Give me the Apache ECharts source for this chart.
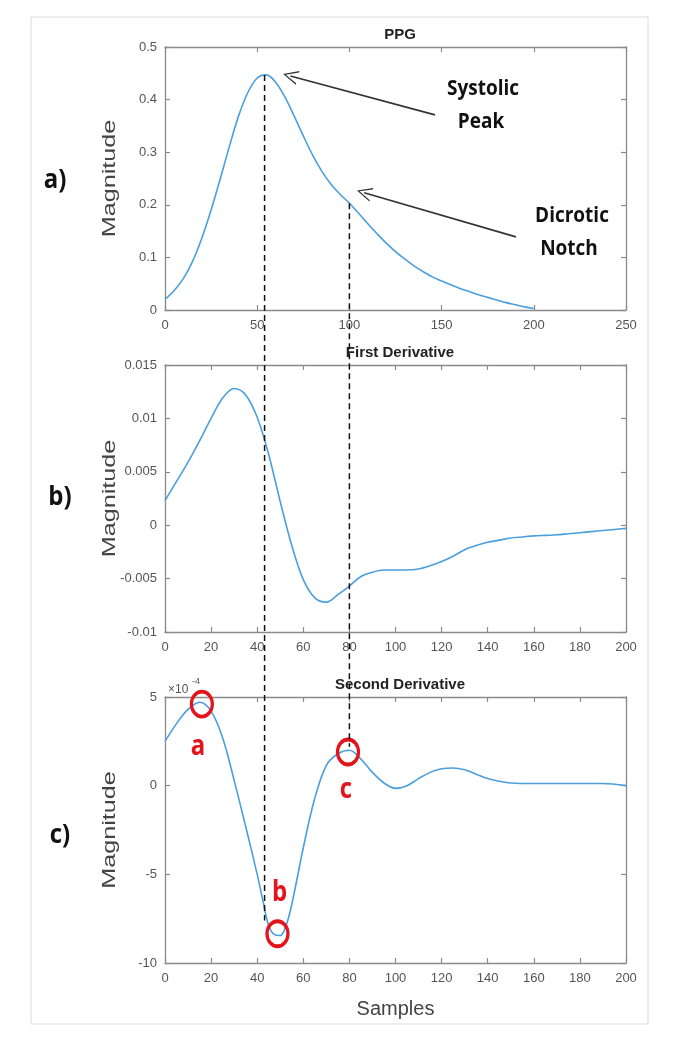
<!DOCTYPE html>
<html><head><meta charset="utf-8">
<script src="https://cdn.jsdelivr.net/npm/echarts@6/dist/echarts.min.js"></script>
<style>html,body{margin:0;padding:0;background:#fff}#chart{width:677px;height:1050px}</style>
</head><body><div id="chart"></div>
<script>
// ---------- data ----------
const panelTitles = ['PPG', 'First Derivative', 'Second Derivative'];
const panelLetters = ['a)', 'b)', 'c)'];

const samples = [0,5,10,15,20,25,30,35,40,45,50,55,60,65,70,75,80,85,90,95,100,
                 105,110,115,120,125,130,135,140,145,150,155,160,165,170,175,180,185,190,195,200];

const ppgY = [0.020,0.037,0.060,0.093,0.137,0.190,0.250,0.312,0.370,0.414,0.441,0.447,0.433,0.405,0.369,0.331,0.295,0.264,0.239,0.220,0.203,
              0.184,0.164,0.145,0.127,0.111,0.097,0.084,0.073,0.063,0.055,0.048,0.041,0.035,0.029,0.024,0.019,0.014,0.010,0.006,0.003];

const d1Y = [0.0023,0.0041,0.0059,0.0079,0.0100,0.0119,0.0128,0.0122,0.0101,0.0066,0.0022,-0.0019,-0.0051,-0.0068,-0.0072,-0.0065,-0.0057,-0.0048,-0.0044,-0.0042,-0.0042,
             -0.0042,-0.0041,-0.0038,-0.0034,-0.0029,-0.0023,-0.0019,-0.0016,-0.0014,-0.0012,-0.0011,-0.0010,-0.00095,-0.0009,-0.0008,-0.0007,-0.0006,-0.0005,-0.0004,-0.0003];

// second derivative, in units of 1e-4
const d2X = [0,5,10,15,20,25,30,35,40,42.5,45,47.5,50,52.5,55,60,65,70,75,80,85,90,95,100,
             105,110,115,120,125,130,135,140,145,150,160,170,180,190,200];
const d2Y = [2.5,3.5,4.3,4.7,4.2,2.7,0.3,-2.3,-5.0,-6.5,-7.9,-8.4,-8.45,-7.9,-6.7,-3.5,-0.7,1.15,1.8,2.0,1.5,0.75,0.15,-0.15,
             0.0,0.4,0.75,0.95,1.0,0.9,0.65,0.4,0.25,0.15,0.12,0.12,0.12,0.12,0.0];

const xTicks = [[0,250,50],[0,200,20],[0,200,20]];
const yTicks = [[0,0.5,0.1],[-0.01,0.015,0.005],[-10,5,5]];

// annotation anchor points (data coordinates)
const arrows = [
  {text:['Systolic','Peak'], from:[146.4,0.371], to:[68.0,0.445]},
  {text:['Dicrotic','Notch'], from:[190.3,0.139], to:[108.0,0.223]}
];
const dropLines = [
  {top:[54,0.447], bottom:[43.8,-7.6]},
  {top:[100,0.203], bottom:[80,2.2]}
];
const circled = [
  {name:'a', x:16, y:4.6},
  {name:'b', x:48.8, y:-8.35},
  {name:'c', x:79.4, y:1.9}
];

// ---------- layout/style ----------
const gridTops = [47, 365, 697];
const gridHeights = [263, 267, 266];
const axisColor = '#8a8a8a';
const lineColor = '#4a9fdc';
const red = '#e3141c';
const tickFont = {color:'#555', fontSize:13, fontFamily:'Liberation Sans'};

const chart = echarts.init(document.getElementById('chart'));

const grids = gridTops.map((t,i)=>({left:165, right:51, top:t, height:gridHeights[i]}));
const xAxes = [], yAxes = [];
function baseAxis(i){
  return {
    type:'value', gridIndex:i,
    axisLine:{show:true, onZero:false, lineStyle:{color:axisColor, width:1.3}},
    axisTick:{show:true, inside:true, length:5, lineStyle:{color:axisColor, width:1.2}},
    splitLine:{show:false}
  };
}
[0,1,2].forEach(i=>{
  const [xmin,xmax,xint] = xTicks[i];
  const [ymin,ymax,yint] = yTicks[i];
  xAxes.push(Object.assign(baseAxis(i), {min:xmin, max:xmax, interval:xint, position:'bottom',
    axisLabel:Object.assign({margin:9}, tickFont),
    name: i===2 ? 'Samples' : '', nameLocation:'middle', nameGap:36,
    nameTextStyle:{fontSize:20, color:'#444', fontFamily:'Liberation Sans'}}));
  yAxes.push(Object.assign(baseAxis(i), {min:ymin, max:ymax, interval:yint, position:'left',
    axisLabel:Object.assign({margin:8}, tickFont)}));
});
[0,1,2].forEach(i=>{
  const [xmin,xmax,xint] = xTicks[i];
  const [ymin,ymax,yint] = yTicks[i];
  xAxes.push(Object.assign(baseAxis(i), {min:xmin, max:xmax, interval:xint, position:'top', axisLabel:{show:false}}));
  yAxes.push(Object.assign(baseAxis(i), {min:ymin, max:ymax, interval:yint, position:'right', axisLabel:{show:false}}));
});

const chevron = 'path://M0,10 L5,0 L10,10 L9,10 L5,1.8 L1,10 Z';
const zip = (xs, ys) => xs.map((x,k)=>[x, ys[k]]);

chart.setOption({
  animation:false,
  backgroundColor:'#fff',
  title: panelTitles.map((t,i)=>({
    text:t, left:395, textAlign:'center', top: gridTops[i]-25,
    textStyle:{fontSize:15, fontWeight:'bold', color:'#222', fontFamily:'Liberation Sans'}
  })),
  grid: grids,
  xAxis: xAxes,
  yAxis: yAxes,
  series: [
    {type:'line', xAxisIndex:0, yAxisIndex:0, data:zip(samples,ppgY), smooth:0.35, showSymbol:false,
      lineStyle:{color:lineColor, width:1.6},
      markLine:{silent:true, symbol:['none', chevron], symbolSize:[14,15],
        label:{show:false}, lineStyle:{color:'#333', width:1.6, type:'solid'},
        data: arrows.map(a=>[{coord:a.from},{coord:a.to}])}},
    {type:'line', xAxisIndex:1, yAxisIndex:1, data:zip(samples,d1Y), smooth:0.35, showSymbol:false,
      lineStyle:{color:lineColor, width:1.6}},
    {type:'line', xAxisIndex:2, yAxisIndex:2, data:zip(d2X,d2Y), smooth:0.35, showSymbol:false,
      lineStyle:{color:lineColor, width:1.6},
      markPoint:{silent:true, symbol:'circle', symbolSize:[21,25],
        itemStyle:{color:'rgba(0,0,0,0)', borderColor:red, borderWidth:3.5},
        label:{show:false},
        data: circled.map(c=>({name:c.name, coord:[c.x,c.y]}))}}
  ]
});

// ---------- annotations positioned through the axes ----------
const px = (i, pt) => chart.convertToPixel({xAxisIndex:i, yAxisIndex:i}, pt);
const g = [];
g.push({type:'rect', shape:{x:31, y:17, width:617, height:1007}, style:{fill:'none', stroke:'#dcdcdc', lineWidth:1}, z:0, silent:true});
dropLines.forEach(d=>{
  const t = px(0, d.top), b = px(2, d.bottom);
  g.push({type:'line', shape:{x1:t[0], y1:t[1], x2:t[0], y2:b[1]},
    style:{stroke:'#111', lineWidth:1.5, lineDash:[6,4]}, z:100, silent:true});
});
const labelOffsets = [[-4,43],[2,-41],[-2,38]];
circled.forEach((c,k)=>{
  const p = px(2, [c.x, c.y]);
  g.push({type:'text', x:p[0]+labelOffsets[k][0], y:p[1]+labelOffsets[k][1], scaleY:1.2,
    style:{text:c.name, fontSize:24, fontWeight:'bold', fontFamily:'Open Sans', fill:red, align:'center', verticalAlign:'middle'}, z:100});
});
const textPos = [[[483,89],[481,122]],[[572,216],[569,249]]];
arrows.forEach((a,k)=>{
  a.text.forEach((t,j)=>{
    g.push({type:'text', x:textPos[k][j][0], y:textPos[k][j][1], scaleY:1.15,
      style:{text:t, fontSize:19, fontWeight:'bold', fontFamily:'Open Sans', fill:'#111', align:'center', verticalAlign:'middle'}, z:100});
  });
});
const letterPos = [[55,180],[60,497],[60,835]];
panelLetters.forEach((t,k)=>{
  g.push({type:'text', x:letterPos[k][0], y:letterPos[k][1], scaleY:1.15,
    style:{text:t, fontSize:24, fontWeight:'bold', fontFamily:'Open Sans', fill:'#111', align:'center', verticalAlign:'middle'}, z:100});
});
gridTops.forEach((t,k)=>{
  g.push({type:'text', x:110, y:t+gridHeights[k]/2, rotation:Math.PI/2, scaleX:1.4,
    style:{text:'Magnitude', fontSize:18, fontFamily:'Liberation Sans', fill:'#444', align:'center', verticalAlign:'middle'}, z:100});
});
g.push({type:'text', x:168, y:690, style:{text:'×10', fontSize:12, fontFamily:'Liberation Sans', fill:'#555', align:'left', verticalAlign:'middle'}});
g.push({type:'text', x:192, y:682, style:{text:'-4', fontSize:9, fontFamily:'Liberation Sans', fill:'#555', align:'left', verticalAlign:'middle'}});
chart.setOption({graphic: g});
</script></body></html>
